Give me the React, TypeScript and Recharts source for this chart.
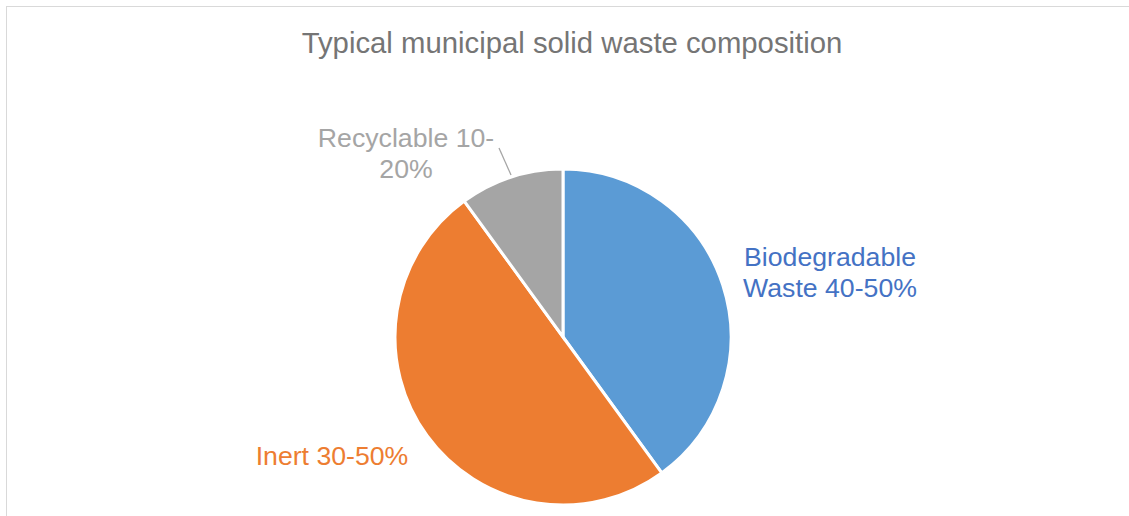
import { PieChart, Pie, Cell } from 'recharts';

const CATEGORIES = ['Biodegradable Waste 40-50%', 'Inert 30-50%', 'Recyclable 10-20%'];
const SHARES = [40, 50, 10];
const LABEL_LINES = [
    ['Biodegradable', 'Waste 40-50%'],
    ['Inert 30-50%'],
    ['Recyclable 10-', '20%'],
];

const SLICE_COLORS = ['#5B9BD5', '#ED7D31', '#A5A5A5'];
const LABEL_COLORS = ['#4472C4', '#ED7D31', '#A5A5A5'];

// label placement relative to the pie centre (first line baseline)
const LABEL_OFFSETS = [
    { dx: 267, dy: -71 },
    { dx: -231, dy: 128 },
    { dx: -157, dy: -190 },
];

const FONT = '"Liberation Sans", Arial, sans-serif';
const LINE_HEIGHT = 31;

const data = CATEGORIES.map((name, i) => ({ name, value: SHARES[i] }));

const renderLabel = (props: any) => {
    const { cx, cy, index } = props;
    const off = LABEL_OFFSETS[index];
    const x = cx + off.dx;
    const y = cy + off.dy;
    return (
        <g key={`label-${index}`}>
            <text x={x} y={y} textAnchor="middle" fill={LABEL_COLORS[index]} fontSize={26.67} fontFamily={FONT}>
                {LABEL_LINES[index].map((line, i) => (
                    <tspan key={i} x={x} dy={i === 0 ? 0 : LINE_HEIGHT}>
                        {line}
                    </tspan>
                ))}
            </text>
            {index === 2 && (
                <line x1={cx - 64} y1={cy - 189} x2={cx - 52} y2={cy - 162} stroke="#A5A5A5" strokeWidth={1.3} />
            )}
        </g>
    );
};

export default function App() {
    return (
        <div style={{ position: 'relative', width: 1129, height: 516, overflow: 'hidden', background: '#fff' }}>
            <style>{'body{margin:0;overflow:hidden;}'}</style>
            <div
                style={{
                    position: 'absolute',
                    left: 6,
                    top: 6,
                    width: 1200,
                    height: 600,
                    border: '1px solid #D9D9D9',
                    boxSizing: 'border-box',
                }}
            />
            <div style={{ position: 'absolute', left: 0, top: 0 }}>
                <PieChart width={1129} height={516} margin={{ top: 0, right: 0, bottom: 0, left: 0 }}>
                    <text x={572} y={53} textAnchor="middle" fill="#757575" fontSize={29.3} fontFamily={FONT}>
                        Typical municipal solid waste composition
                    </text>
                    <Pie
                        data={data}
                        dataKey="value"
                        nameKey="name"
                        cx={563}
                        cy={337}
                        outerRadius={168}
                        startAngle={90}
                        endAngle={-270}
                        stroke="#FFFFFF"
                        strokeWidth={3}
                        label={renderLabel}
                        labelLine={false}
                        isAnimationActive={false}
                    >
                        {data.map((entry, i) => (
                            <Cell key={entry.name} fill={SLICE_COLORS[i]} />
                        ))}
                    </Pie>
                </PieChart>
            </div>
        </div>
    );
}
